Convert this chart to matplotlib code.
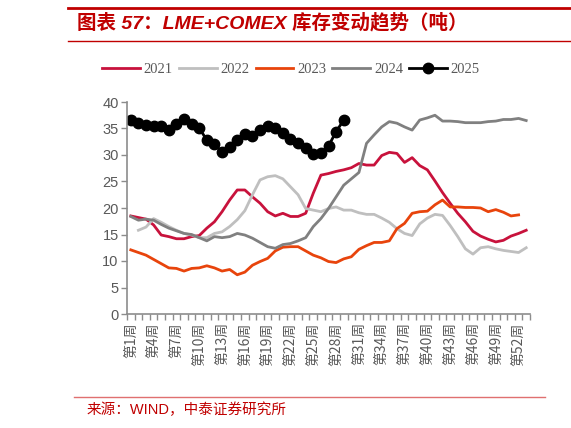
import numpy as np
import matplotlib
matplotlib.use("Agg")
import matplotlib.pyplot as plt
from matplotlib.lines import Line2D
from matplotlib.ticker import FixedLocator, NullFormatter

plt.rcParams['font.family'] = ['Liberation Sans', 'Noto Sans CJK SC', 'DejaVu Sans']

# 周次
weeks = np.arange(1, 54)
week_labels = [f"第{w}周" for w in range(1, 54, 3)]

# 库存（万吨，读图估计）
v2021 = [18.5, 18.2, 17.9, 16.8, 14.9, 14.6, 14.2, 14.2, 14.6, 14.8, 16.2, 17.4, 19.3, 21.5, 23.4, 23.4,
         22.1, 20.9, 19.3, 18.5, 19.0, 18.4, 18.4, 19.0, 22.8, 26.2, 26.5, 26.9, 27.2, 27.6, 28.4,
         28.1, 28.1, 29.9, 30.5, 30.3, 28.6, 29.5, 28.0, 27.2, 25.1, 22.9, 20.9, 19.0, 17.4, 15.6,
         14.7, 14.1, 13.6, 13.9, 14.7, 15.2, 15.8]
v2022 = [np.nan, 15.8, 16.4, 18.0, 17.3, 16.5, 15.8, 15.2, 14.9, 14.4, 14.4, 15.2, 15.5, 16.5, 17.8, 19.5,
         22.5, 25.3, 25.9, 26.1, 25.5, 24.0, 22.5, 19.9, 19.6, 19.3, 19.9, 20.2, 19.6, 19.6, 19.1,
         18.8, 18.8, 18.1, 17.3, 16.1, 15.2, 14.8, 17.0, 18.1, 18.8, 18.6, 16.7, 14.6, 12.3, 11.3,
         12.5, 12.7, 12.3, 12.0, 11.8, 11.6, 12.5]
v2023 = [12.1, 11.6, 11.1, 10.3, 9.5, 8.7, 8.6, 8.1, 8.6, 8.7, 9.1, 8.7, 8.1, 8.4, 7.4, 7.9,
         9.2, 9.9, 10.5, 11.9, 12.6, 12.7, 12.7, 11.9, 11.1, 10.6, 9.9, 9.7, 10.4, 10.8,
         12.2, 12.9, 13.5, 13.5, 13.8, 16.1, 17.1, 19.0, 19.3, 19.4, 20.6, 21.5, 20.2, 20.2,
         20.1, 20.1, 20.0, 19.3, 19.7, 19.2, 18.5, 18.7]
v2024 = [18.4, 17.7, 17.9, 17.7, 16.9, 16.2, 15.7, 15.2, 15.0, 14.4, 13.8, 14.6, 14.4, 14.6, 15.2, 14.9,
         14.3, 13.5, 12.7, 12.4, 13.1, 13.3, 13.8, 14.4, 16.5, 18.0, 19.9, 22.1, 24.3, 25.5, 26.7,
         32.2, 33.8, 35.3, 36.3, 36.0, 35.3, 34.7, 36.6, 37.0, 37.5, 36.4, 36.4, 36.3, 36.1, 36.1,
         36.1, 36.3, 36.4, 36.7, 36.7, 36.9, 36.5]
v2025 = [36.6, 36.0, 35.6, 35.5, 35.5, 34.8, 35.9, 36.7, 35.8, 35.1, 32.8, 32.0, 30.6, 31.6, 32.8,
         33.9, 33.6, 34.7, 35.4, 35.0, 34.1, 33.1, 32.2, 31.3, 30.2, 30.3, 31.7, 34.4, 36.6]

red = "#C00000"
axis_grey = "#8C8C8C"
text_grey = "#595959"

fig = plt.figure(figsize=(5.71, 4.28), dpi=100)
ax = fig.add_axes([127/571, 1-314/428, (530-127)/571, (314-102)/428])

lw = 2.0
ax.plot(weeks, v2021, color="#C8123C", lw=lw, label="2021")
ax.plot(weeks, v2022, color="#BFBFBF", lw=lw, label="2022")
ax.plot(weeks[:len(v2023)], v2023, color="#E8440C", lw=lw, label="2023")
ax.plot(weeks, v2024, color="#808080", lw=lw, label="2024")
ax.plot(weeks[:len(v2025)], v2025, color="black", lw=lw, marker="o", markersize=7.5, label="2025")

ax.set_xlim(0.5, 53.5)
ax.set_ylim(0, 40)
ax.set_yticks(range(0, 41, 5))
ax.tick_params(axis="y", colors=axis_grey, labelcolor=text_grey, labelsize=10.5, length=4, width=1, pad=2)

ax.xaxis.set_major_locator(FixedLocator(list(range(1, 54, 3))))
ax.set_xticklabels(week_labels, rotation=90, fontsize=10, color=text_grey,
                   family=['Noto Sans CJK SC', 'DejaVu Sans'])
ax.xaxis.set_minor_locator(FixedLocator(np.arange(0.5, 54, 1)))
ax.xaxis.set_minor_formatter(NullFormatter())
ax.tick_params(axis="x", which="major", length=0, pad=6)
ax.tick_params(axis="x", which="minor", length=4, width=1, color=axis_grey)

for s in ["top", "right"]:
    ax.spines[s].set_visible(False)
for s in ["left", "bottom"]:
    ax.spines[s].set_color(axis_grey)
    ax.spines[s].set_linewidth(1.2)

leg = fig.legend(loc="center", bbox_to_anchor=(291/571, 1-69/428), ncol=5, frameon=False,
                 handlelength=2.6, handletextpad=0.27, columnspacing=0.4,
                 prop={"family": "Liberation Serif", "size": 10.5})
for t in leg.get_texts():
    t.set_color(text_grey)

# 标题与分隔线
fig.lines.append(Line2D([68/571, 1], [1-7.5/428]*2, color=red, lw=2.0, transform=fig.transFigure))
fig.lines.append(Line2D([68/571, 1], [1-41/428]*2, color=red, lw=1.0, transform=fig.transFigure))
fig.text(77/571, 1-23/428, "图表 57：LME+COMEX 库存变动趋势（吨）", color=red, fontsize=14,
         fontweight="bold", fontstyle="italic", va="center", ha="left",
         family=['Liberation Sans', 'Noto Sans CJK SC'])

fig.lines.append(Line2D([74/571, 545/571], [1-397/428]*2, color="#E07070", lw=1.0, transform=fig.transFigure))
fig.text(87/571, 1-410/428, "来源：WIND，中泰证券研究所", color=red, fontsize=10.5, va="center", ha="left",
         family=['Liberation Sans', 'Noto Sans CJK SC'])

fig.savefig("out.png", dpi=100)
